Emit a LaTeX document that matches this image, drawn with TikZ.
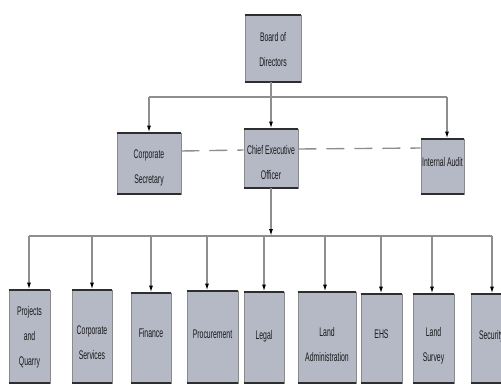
\documentclass[tikz,border=0pt]{standalone}
\usepackage{fontspec}
\setmainfont{Liberation Sans}[FakeStretch=0.55]
\usetikzlibrary{arrows.meta}
\definecolor{boxfill}{HTML}{B5B9C6}
\definecolor{edgedark}{HTML}{2E2E2E}
\definecolor{edgegray}{HTML}{8A8A8A}
\definecolor{linegray}{HTML}{8E8E8E}
\begin{document}
\begin{tikzpicture}[x=1pt,y=-1pt,
  box/.style={fill=boxfill, draw=edgegray, line width=0.8pt, inner sep=0pt},
  lbl/.style={font=\fontsize{12.5}{25}\selectfont, align=center, text=black!90, inner sep=0pt},
  edgeline/.style={draw=edgedark, line width=2pt},
  conn/.style={draw=linegray, line width=1.3pt},
  arr/.style={conn, -{Latex[length=7pt,width=4pt,color=black]}},
  dashline/.style={draw=linegray, line width=1.4pt, dash pattern=on 18pt off 10pt}]
\fill[white] (0,0) rectangle (501,384);
\useasboundingbox (0,0) rectangle (501,384);

% top levels
\node[box, minimum width=56pt, minimum height=67pt] (bod) at (273,48.5) {};
\node[box, minimum width=64pt, minimum height=61pt] (cs) at (149,163.5) {};
\node[box, minimum width=54pt, minimum height=59pt] (ceo) at (271,158.5) {};
\node[box, minimum width=43pt, minimum height=55pt] (ia) at (442.5,166.5) {};

% bottom row
\node[box, minimum width=41pt, minimum height=93pt] (pq) at (29.5,336.5) {};
\node[box, minimum width=40pt, minimum height=93pt] (csv) at (92,336.5) {};
\node[box, minimum width=40pt, minimum height=90pt] (fin) at (151,338) {};
\node[box, minimum width=51pt, minimum height=92pt] (proc) at (212.5,337) {};
\node[box, minimum width=40pt, minimum height=91pt] (legal) at (264,337.5) {};
\node[box, minimum width=58pt, minimum height=91pt] (la) at (327,337.5) {};
\node[box, minimum width=41pt, minimum height=89pt] (ehs) at (381.5,338.5) {};
\node[box, minimum width=41pt, minimum height=89pt] (ls) at (433.5,338.5) {};
\node[box, minimum width=41pt, minimum height=89pt] (sec) at (491.5,338.5) {};

\foreach \n in {bod,cs,ceo,ia,pq,csv,fin,proc,legal,la,ehs,ls,sec}{
  \draw[edgeline] (\n.north west) -- (\n.north east);
  \draw[edgeline] (\n.south west) -- (\n.south east);
}

% labels
\node[lbl] (t-bod) at (273,49.5) {Board of\\Directors};
\node[lbl] (t-cs) at (149,167.5) {Corporate\\Secretary};
\node[lbl] (t-ceo) at (271,163) {Chief Executive\\Officer};
\node[lbl] (t-ia) at (442.5,162) {Internal Audit};
\node[lbl] (t-pq) at (29.5,337) {Projects\\and\\Quarry};
\node[lbl] (t-csv) at (92,342.5) {Corporate\\Services};
\node[lbl] (t-fin) at (151,333) {Finance};
\node[lbl] (t-proc) at (212.5,334) {Procurement};
\node[lbl] (t-legal) at (264,336) {Legal};
\node[lbl] (t-la) at (327,344.5) {Land\\Administration};
\node[lbl] (t-ehs) at (381.5,334) {EHS};
\node[lbl] (t-ls) at (433.5,345.5) {Land\\Survey};
\node[lbl] (t-sec) at (491.5,336) {Security};

% dashed staff links
\draw[dashline] (cs.east |- 0,151) -- (ceo.west |- 0,150);
\draw[dashline] (ceo.east |- 0,149) -- (ia.west |- 0,148);

% board connectors
\coordinate (bus1L) at (149,97);
\coordinate (bus1R) at (447,97);
\coordinate (bus1M) at (271,97);
\draw[conn] (bus1L) -- (bus1R);
\draw[arr] (bod.south -| bus1M) -- (ceo.north);
\draw[arr] (bus1L) -- (bus1L |- cs.north);
\draw[arr] (bus1R) -- (bus1R |- ia.north);

% CEO to departments
\coordinate (bus2M) at (271,236);
\coordinate (bus2L) at (29,236);
\coordinate (bus2R) at (492,236);
\draw[arr] (ceo.south) -- (bus2M);
\draw[conn] (bus2L) -- (bus2R);
\foreach \n/\x in {pq/29,csv/92,fin/151,proc/207,legal/264,la/325,ehs/381,ls/432,sec/492}{
  \draw[arr] (\x,236) -- (\x,0 |- \n.north);
}
\end{tikzpicture}
\end{document}
